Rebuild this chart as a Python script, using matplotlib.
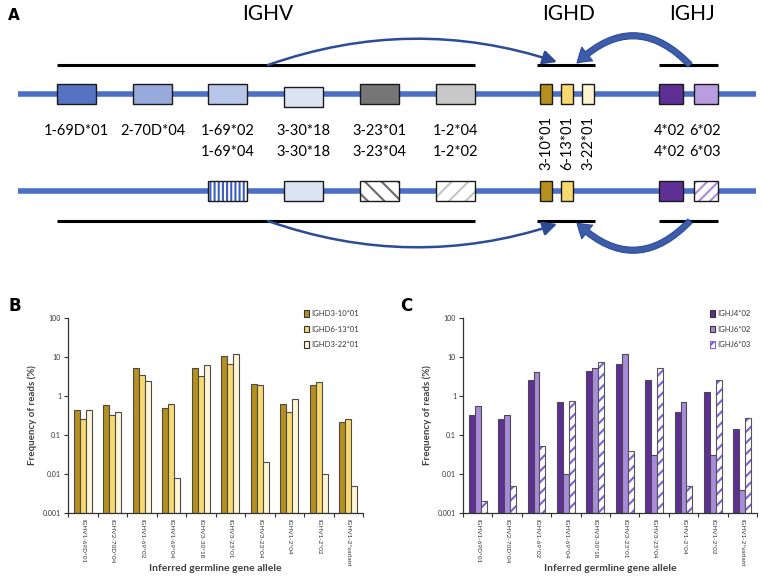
import numpy as np
import matplotlib
matplotlib.use("Agg")
import matplotlib.pyplot as plt
from matplotlib.patches import Rectangle, FancyArrowPatch, Patch

plt.rcParams['font.family'] = ['Lato', 'DejaVu Sans']
plt.rcParams['hatch.linewidth'] = 1.5

# ---------------- data ----------------
categories = ["IGHV1-69D*01", "IGHV2-70D*04", "IGHV1-69*02", "IGHV1-69*04",
              "IGHV3-30*18", "IGHV3-23*01", "IGHV3-23*04", "IGHV1-2*04",
              "IGHV1-2*02", "IGHV1-2*variant"]

d_series = ["IGHD3-10*01", "IGHD6-13*01", "IGHD3-22*01"]
ighd3_10 = [0.45, 0.6, 5.2, 0.5, 5.1, 10.5, 2.0, 0.62, 1.9, 0.21]
ighd6_13 = [0.25, 0.32, 3.4, 0.62, 3.3, 6.5, 1.9, 0.4, 2.3, 0.25]
ighd3_22 = [0.43, 0.38, 2.4, 0.008, 6.1, 12.0, 0.02, 0.82, 0.01, 0.005]

j_series = ["IGHJ4*02", "IGHJ6*02", "IGHJ6*03"]
ighj4_02 = [0.32, 0.25, 2.6, 0.7, 4.4, 6.8, 2.5, 0.4, 1.27, 0.14]
ighj6_02 = [0.55, 0.32, 4.2, 0.01, 5.1, 12.0, 0.03, 0.7, 0.03, 0.004]
ighj6_03 = [0.002, 0.005, 0.051, 0.76, 7.4, 0.04, 5.1, 0.005, 2.5, 0.28]

ytick_vals = [0.001, 0.01, 0.1, 1, 10, 100]
ytick_labels = ["0.001", "0.01", "0.1", "1", "10", "100"]

# diagram labels (panel A)
v_top_labels = ["1-69D*01", "2-70D*04", "1-69*02", "3-30*18", "3-23*01", "1-2*04"]
v_bot_labels = ["", "", "1-69*04", "3-30*18", "3-23*04", "1-2*02"]
d_labels = ["3-10*01", "6-13*01", "3-22*01"]
j_top_labels = ["4*02", "6*02"]
j_bot_labels = ["4*02", "6*03"]

# ---------------- figure ----------------
fig = plt.figure(figsize=(7.62, 5.79), dpi=100)

# Panel A: schematic in pixel coordinates
axA = fig.add_axes([0, 0, 1, 1])
axA.set_xlim(0, 762)
axA.set_ylim(579, 0)
axA.axis('off')

blue_line = '#4A6FC4'
arrow_col = '#2C4C96'
v_x = [57, 133, 208, 284, 360, 436]
v_w = 39
d_x = [540, 561, 582]
d_w = 12
j_x = [659, 694]
j_w = 24

v_top_fc = ['#5573C2', '#98AADB', '#B8C6E8', '#DCE3F3', '#767676', '#C8C8C8']
d_fc = ['#B58F1F', '#F7D96F', '#FEF4D2']
j_fc = ['#5E2F95', '#B89DE0']

def box(x, y, w, h, fc='white', hatch=None, hc=None, z=3):
    if hatch:
        axA.add_patch(Rectangle((x, y), w, h, facecolor='white', edgecolor=hc,
                                hatch=hatch, lw=0, zorder=z))
        axA.add_patch(Rectangle((x, y), w, h, facecolor='none', edgecolor='#1a1a1a',
                                lw=1.0, zorder=z + 1))
    else:
        axA.add_patch(Rectangle((x, y), w, h, facecolor=fc, edgecolor='#1a1a1a',
                                lw=1.0, zorder=z))

# titles
axA.text(8, 15, 'A', fontsize=11, fontweight='bold', ha='left', va='center',
         family=['DejaVu Sans'])
axA.text(268, 14, 'IGHV', fontsize=15, ha='center', va='center')
axA.text(569, 14, 'IGHD', fontsize=15, ha='center', va='center')
axA.text(692, 14, 'IGHJ', fontsize=15, ha='center', va='center')

# black segment lines
for yb in (65, 221):
    axA.plot([57, 475], [yb, yb], color='black', lw=2.2, zorder=2, solid_capstyle='butt')
    axA.plot([537, 595], [yb, yb], color='black', lw=2.2, zorder=2, solid_capstyle='butt')
    axA.plot([659, 718], [yb, yb], color='black', lw=2.2, zorder=2, solid_capstyle='butt')

# blue chromosomal lines
axA.plot([18, 756], [94, 94], color=blue_line, lw=4, zorder=1, solid_capstyle='butt')
axA.plot([18, 756], [191, 191], color=blue_line, lw=4, zorder=1, solid_capstyle='butt')

# top row boxes
for i, x in enumerate(v_x):
    yy = 87 if i == 3 else 84
    box(x, yy, v_w, 20, fc=v_top_fc[i])
for i, x in enumerate(d_x):
    box(x, 84, d_w, 20, fc=d_fc[i])
for i, x in enumerate(j_x):
    box(x, 84, j_w, 20, fc=j_fc[i])

# bottom row boxes
box(v_x[2], 181, v_w, 20, hatch='||||', hc='#3C5DC0')
box(v_x[3], 181, v_w, 20, fc='#DCE3F3')
box(v_x[4], 181, v_w, 20, hatch='\\\\', hc='#6A6A6A')
box(v_x[5], 181, v_w, 20, hatch='//', hc='#C4C4C4')
box(d_x[0], 181, d_w, 20, fc=d_fc[0])
box(d_x[1], 181, d_w, 20, fc=d_fc[1])
box(j_x[0], 181, j_w, 20, fc=j_fc[0])
box(j_x[1], 181, j_w, 20, hatch='///', hc='#A98BE0')

# labels
for i, x in enumerate(v_x):
    cx = x + v_w / 2
    axA.text(cx, 131, v_top_labels[i], fontsize=10.5, ha='center', va='center')
    if v_bot_labels[i]:
        axA.text(cx, 152, v_bot_labels[i], fontsize=10.5, ha='center', va='center')
for i, x in enumerate(d_x):
    axA.text(x + d_w / 2 + 0.5, 143, d_labels[i], fontsize=10.5, rotation=90,
             ha='center', va='center')
for i, x in enumerate(j_x):
    cx = x + j_w / 2 - 1
    axA.text(cx, 131, j_top_labels[i], fontsize=10.5, ha='center', va='center')
    axA.text(cx, 152, j_bot_labels[i], fontsize=10.5, ha='center', va='center')

# recombination arrows
arrs = [
    ((268, 65), (557, 62), 'arc3,rad=-0.17'),
    ((268, 221), (557, 224), 'arc3,rad=0.17'),
]
for pA, pB, cs in arrs:
    a = FancyArrowPatch(pA, pB, connectionstyle=cs,
                        arrowstyle='-|>,head_length=0.6,head_width=0.3',
                        mutation_scale=14, color=arrow_col, lw=1.8, zorder=5,
                        shrinkA=0, shrinkB=0)
    axA.add_patch(a)
arrsJ = [
    ((690, 65), (577, 63), 'arc3,rad=0.5'),
    ((690, 221), (577, 223), 'arc3,rad=-0.5'),
]
for pA, pB, cs in arrsJ:
    a = FancyArrowPatch(pA, pB, connectionstyle=cs,
                        arrowstyle='simple,head_length=0.7,head_width=0.9,tail_width=0.3',
                        mutation_scale=14, facecolor='#3D5DAA', edgecolor=arrow_col,
                        lw=0.8, zorder=5, shrinkA=0, shrinkB=0)
    axA.add_patch(a)


# ---------------- bar panels ----------------
def bar_panel(rect, series_vals, series_names, colors, hatches, hcolors, letter, letter_xy,
              legend_anchor):
    ax = fig.add_axes(rect)
    ymin = 1e-3
    x = np.arange(len(categories))
    width = 0.2
    offs = [-0.2, 0.0, 0.2]
    handles = []
    for k, vals in enumerate(series_vals):
        v = np.array(vals)
        if hatches[k]:
            ax.bar(x + offs[k], v - ymin, width, bottom=ymin, color='white',
                   edgecolor=hcolors[k], hatch=hatches[k], lw=0, zorder=2)
            ax.bar(x + offs[k], v - ymin, width, bottom=ymin, fill=False,
                   edgecolor='#555555', lw=0.8, zorder=3)
            handles.append(Patch(facecolor='white', edgecolor=hcolors[k],
                                 hatch=hatches[k], lw=0.8))
        else:
            ax.bar(x + offs[k], v - ymin, width, bottom=ymin, color=colors[k],
                   edgecolor='#4a4a4a', lw=0.8, zorder=2)
            handles.append(Patch(facecolor=colors[k], edgecolor='#333333', lw=0.8))
    ax.set_yscale('log')
    ax.set_ylim(ymin, 100)
    ax.set_xlim(-0.5, len(categories) - 0.5)
    ax.set_yticks(ytick_vals)
    ax.set_yticklabels(ytick_labels)
    ax.yaxis.set_minor_locator(matplotlib.ticker.NullLocator())
    ax.set_xticks(x)
    ax.set_xticklabels(categories, rotation=-90, fontsize=4.6, color='#333333')
    ax.set_xticks(np.arange(-0.5, len(categories)), minor=True)
    ax.tick_params(axis='x', which='major', length=0, pad=4)
    ax.tick_params(axis='x', which='minor', length=3, width=0.8, direction='out',
                   color='#333333')
    ax.tick_params(axis='y', labelsize=5, length=3, width=0.8, color='#333333',
                   labelcolor='#333333', pad=2)
    for s in ('top', 'right'):
        ax.spines[s].set_visible(False)
    for s in ('left', 'bottom'):
        ax.spines[s].set_color('#333333')
        ax.spines[s].set_linewidth(0.9)
    ax.set_ylabel('Frequency of reads (%)', fontsize=7, fontweight='bold',
                  color='#404040')
    ax.yaxis.set_label_coords(-0.105, 0.5)
    ax.set_xlabel('Inferred germline gene allele', fontsize=7.5, fontweight='bold',
                  color='#404040')
    ax.xaxis.set_label_coords(0.5, -0.262)
    ax.legend(handles, series_names, loc='upper left', bbox_to_anchor=legend_anchor,
              frameon=False, fontsize=5.5, handlelength=0.7, handleheight=0.9,
              handletextpad=0.3, labelspacing=1.1, borderpad=0, borderaxespad=0,
              labelcolor='#333333')
    fig.text(letter_xy[0] / 762, 1 - letter_xy[1] / 579, letter, fontsize=12,
             fontweight='bold', ha='left', va='center', family=['DejaVu Sans'])
    return ax


rectB = [68 / 762, 1 - 513 / 579, (363 - 68) / 762, (513 - 318) / 579]
rectC = [463 / 762, 1 - 513 / 579, (757 - 463) / 762, (513 - 318) / 579]

bar_panel(rectB, [ighd3_10, ighd6_13, ighd3_22], d_series,
          ['#B58F1F', '#F7D96F', '#FEF6D6'], [None, None, None], [None, None, None],
          'B', (8, 306), (0.80, 1.04))
bar_panel(rectC, [ighj4_02, ighj6_02, ighj6_03], j_series,
          ['#5E2F95', '#A98BDB', 'white'], [None, None, '///'],
          [None, None, '#7D5FD8'], 'C', (400, 306), (0.84, 1.04))

fig.savefig('out.png', dpi=100)
